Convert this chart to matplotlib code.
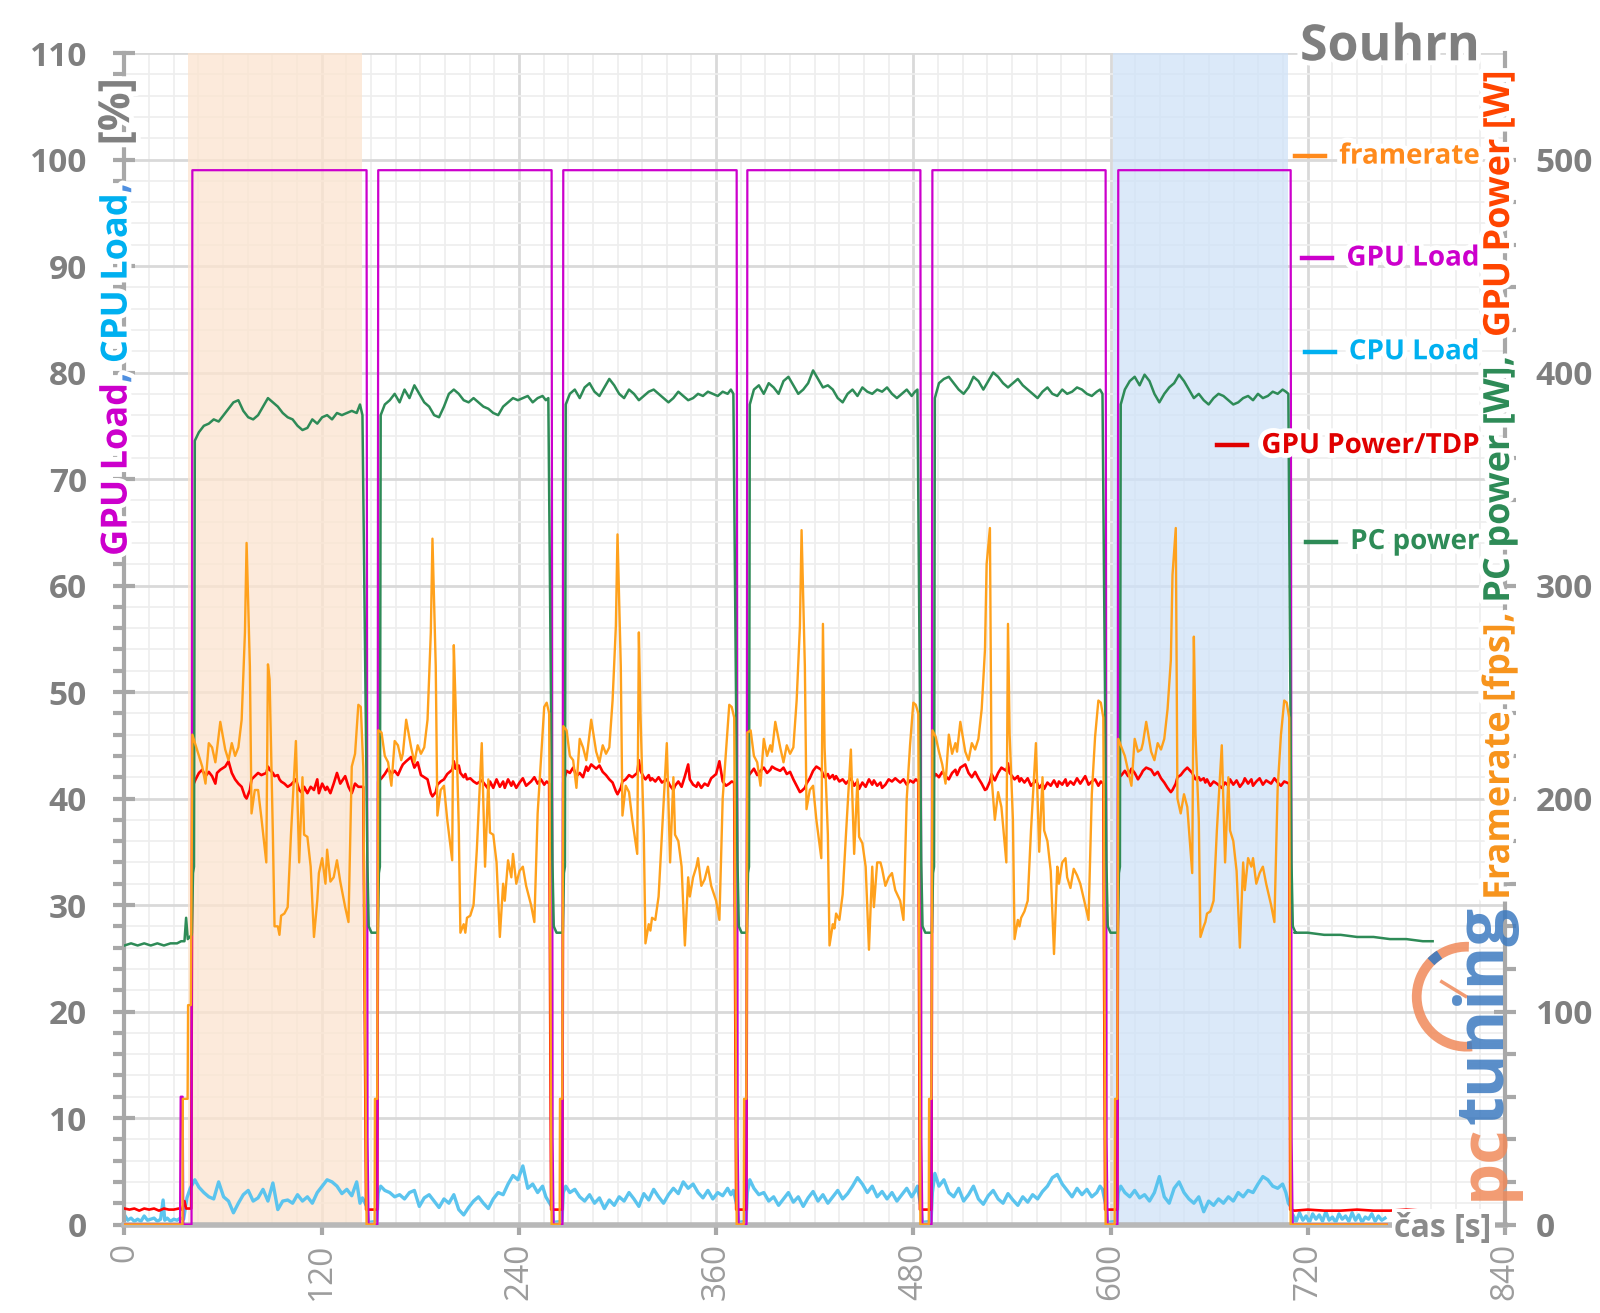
import numpy as np
import matplotlib
matplotlib.use("Agg")
import matplotlib.pyplot as plt
import matplotlib.patheffects as pe
from matplotlib.ticker import MultipleLocator
from matplotlib.patches import Arc
from matplotlib.lines import Line2D

plt.rcParams['font.family'] = ['Open Sans', 'DejaVu Sans']

# ---------------- data ----------------
# six benchmark runs: load start / end [s]
load_start = [41.3, 154.4, 267.0, 379.0, 491.6, 604.7]
load_end = [147.3, 259.9, 372.5, 484.3, 597.0, 709.6]

# framerate [fps] and GPU power/TDP [%] sampled at these offsets from run start
run_rel = [0, 2, 4, 6, 8, 10, 12, 14, 15, 17, 20, 22, 24, 26, 28, 30, 32, 33, 35, 36,
           38, 40, 42, 45, 46, 47, 49, 50, 52, 53, 54, 56, 58, 60, 63, 65, 67, 68, 70, 72,
           74, 76, 77, 79, 81, 82, 84, 86, 88, 90, 93, 95, 97, 99, 101, 102.5, 104]

fps_run1 = [230, 225, 220, 215, 207, 226, 224, 217, 223, 236, 223, 218, 226, 220, 224, 237, 278, 320, 262, 193,
            204, 204, 191, 170, 263, 256, 183, 140, 140, 136, 145, 146, 149, 183, 227, 170, 210, 183, 182, 168,
            135, 152, 165, 172, 160, 176, 161, 163, 171, 161, 149, 142, 215, 221, 244, 243, 215]
fps_run2 = [232, 231, 220, 217, 206, 227, 225, 218, 221, 237, 224, 217, 225, 221, 224, 237, 278, 322, 262, 192,
            204, 206, 190, 171, 272, 246, 187, 137, 141, 137, 144, 145, 150, 176, 226, 168, 209, 184, 183, 170,
            135, 160, 152, 171, 163, 174, 160, 166, 168, 159, 150, 142, 193, 218, 243, 245, 240]
fps_run3 = [234, 232, 220, 218, 205, 228, 224, 218, 224, 237, 222, 217, 225, 221, 224, 246, 281, 324, 262, 192,
            206, 203, 190, 174, 278, 239, 183, 132, 141, 138, 144, 143, 154, 183, 226, 170, 210, 183, 180, 168,
            131, 163, 154, 163, 168, 172, 159, 162, 168, 159, 152, 143, 200, 222, 244, 243, 238]
fps_run4 = [231, 232, 220, 217, 206, 228, 220, 225, 222, 236, 224, 217, 225, 221, 224, 246, 281, 326, 262, 195,
            204, 206, 190, 172, 282, 224, 183, 131, 141, 139, 146, 143, 155, 183, 223, 174, 209, 182, 179, 168,
            129, 168, 149, 170, 170, 167, 159, 163, 165, 157, 152, 143, 200, 225, 245, 244, 240]
fps_run5 = [232, 229, 222, 216, 207, 230, 221, 226, 222, 236, 222, 218, 226, 223, 228, 242, 270, 310, 327, 210,
            190, 203, 196, 170, 282, 230, 190, 134, 143, 140, 144, 147, 152, 185, 226, 175, 210, 185, 180, 166,
            127, 168, 160, 170, 172, 163, 158, 167, 164, 160, 150, 143, 202, 229, 246, 245, 238]
fps_run6 = [228, 224, 220, 213, 206, 228, 222, 223, 226, 236, 222, 218, 226, 223, 228, 242, 265, 305, 327, 200,
            193, 202, 196, 165, 276, 230, 190, 135, 140, 142, 146, 147, 152, 185, 225, 170, 210, 185, 180, 166,
            130, 170, 157, 172, 168, 172, 160, 165, 168, 160, 150, 142, 205, 230, 246, 245, 238]
fps_runs = [fps_run1, fps_run2, fps_run3, fps_run4, fps_run5, fps_run6]

gpw_run1 = [41.1, 41.8, 42.4, 42.7, 42.1, 42.5, 42.1, 41.4, 42.4, 42.7, 43.0, 43.5, 42.4, 41.8, 41.4, 41.1, 40.2, 40.0, 40.8, 41.8,
            42.1, 42.4, 42.2, 42.4, 43.0, 42.7, 42.4, 42.1, 42.2, 41.8, 41.6, 41.4, 41.1, 41.3, 41.8, 40.8, 40.5, 41.1, 40.5, 41.1,
            40.8, 41.8, 40.5, 41.4, 40.8, 41.1, 40.5, 41.4, 42.4, 41.4, 42.1, 41.1, 40.5, 41.4, 41.1, 41.1, 41.1]
gpw_run2 = [41.6, 41.9, 42.3, 42.8, 42.3, 42.6, 42.2, 42.9, 43.2, 43.5, 43.9, 42.9, 43.4, 42.2, 42.0, 41.8, 40.5, 40.2, 40.6, 41.3,
            41.6, 41.8, 42.3, 42.7, 43.5, 42.8, 43.1, 42.4, 42.0, 42.3, 41.8, 41.9, 41.6, 41.4, 41.7, 41.3, 40.9, 41.6, 41.0, 41.8,
            41.1, 41.6, 41.0, 41.8, 41.2, 41.6, 41.0, 41.5, 41.9, 41.2, 41.6, 42.0, 41.4, 41.8, 41.3, 41.6, 41.4]
gpw_run3 = [41.5, 42.6, 42.4, 42.9, 42.1, 42.4, 42.0, 43.0, 42.6, 43.2, 42.8, 43.1, 42.5, 42.2, 41.8, 41.5, 40.7, 40.4, 41.0, 41.6,
            41.8, 42.2, 42.0, 42.4, 43.6, 42.6, 42.0, 41.8, 42.2, 41.7, 41.9, 41.6, 42.0, 41.5, 41.8, 41.2, 40.8, 41.2, 41.6, 41.1,
            42.1, 43.2, 41.8, 41.3, 41.1, 41.5, 41.0, 41.4, 41.2, 41.9, 42.3, 43.5, 41.6, 41.2, 41.4, 41.6, 41.5]
gpw_run4 = [42.0, 42.4, 42.8, 42.2, 42.6, 42.9, 42.4, 42.7, 43.0, 42.8, 42.6, 42.9, 42.3, 42.5, 41.8, 41.2, 40.6, 40.7, 41.0, 41.4,
            41.9, 42.6, 43.0, 42.7, 42.3, 42.0, 42.3, 41.9, 42.2, 41.8, 42.1, 41.6, 41.8, 41.4, 41.9, 41.2, 41.6, 40.9, 41.5, 41.1,
            41.8, 41.3, 41.7, 41.2, 41.5, 41.0, 41.3, 41.8, 41.6, 41.9, 41.5, 41.8, 41.3, 41.7, 41.5, 41.8, 41.6]
gpw_run5 = [41.8, 42.3, 42.0, 42.5, 42.1, 41.8, 42.4, 42.7, 42.2, 42.9, 43.2, 42.4, 42.0, 42.5, 41.9, 41.4, 40.8, 40.9, 41.6, 42.3,
            41.7, 42.4, 42.9, 42.6, 43.3, 42.4, 42.0, 41.8, 42.1, 41.6, 41.9, 41.5, 41.9, 41.2, 41.7, 41.0, 41.4, 40.9, 41.5, 41.2,
            41.7, 41.1, 41.6, 41.3, 41.8, 41.2, 41.6, 41.3, 41.9, 41.4, 42.1, 41.3, 41.6, 41.8, 41.2, 41.6, 41.4]
gpw_run6 = [41.9, 42.2, 42.6, 42.1, 42.8, 42.4, 41.8, 42.3, 42.6, 42.9, 42.7, 42.2, 42.5, 41.9, 41.5, 41.0, 40.6, 40.8, 41.4, 42.0,
            42.2, 42.6, 42.9, 42.4, 42.1, 41.8, 42.0, 41.7, 41.9, 41.5, 41.8, 41.2, 41.6, 41.4, 41.0, 41.5, 41.2, 41.8, 41.3, 41.7,
            41.1, 41.5, 41.9, 41.4, 41.8, 41.2, 41.6, 41.9, 41.3, 41.7, 41.4, 41.9, 41.5, 41.2, 41.6, 41.5, 41.4]
gpw_runs = [gpw_run1, gpw_run2, gpw_run3, gpw_run4, gpw_run5, gpw_run6]

# PC power [W] and CPU load [%] sampled at these offsets from run start
slow_rel = [1.5, 4, 7, 10, 13, 16, 19, 22, 25, 28, 31, 34, 37, 40, 43, 46, 49, 52,
            55, 58, 61, 64, 67, 70, 73, 76, 79, 82, 85, 88, 91, 94, 97, 100, 102, 103.5]

pc_run1 = [368, 372, 375, 376, 378, 377, 380, 383, 386, 387, 382, 379, 378, 380, 384, 388, 386, 384,
           381, 379, 378, 375, 373, 374, 378, 376, 379, 380, 378, 381, 380, 381, 382, 381, 385, 380]
pc_run2 = [380, 385, 387, 390, 386, 392, 388, 394, 390, 386, 384, 380, 379, 384, 390, 392, 390, 387,
           386, 388, 386, 384, 383, 381, 380, 384, 386, 388, 387, 388, 389, 386, 388, 389, 387, 388]
pc_run3 = [385, 390, 392, 388, 393, 395, 391, 389, 393, 397, 394, 390, 388, 392, 390, 387, 389, 391,
           392, 390, 388, 386, 388, 391, 389, 387, 388, 390, 389, 391, 390, 389, 391, 390, 392, 390]
pc_run4 = [385, 392, 394, 390, 395, 393, 390, 396, 398, 394, 390, 392, 395, 401, 397, 393, 394, 392,
           388, 386, 390, 392, 389, 393, 391, 390, 392, 391, 393, 390, 388, 390, 392, 389, 391, 392]
pc_run5 = [388, 395, 397, 398, 395, 392, 390, 393, 398, 396, 392, 396, 400, 398, 395, 393, 395, 397,
           394, 392, 390, 388, 391, 393, 390, 389, 392, 390, 391, 393, 392, 390, 389, 391, 392, 390]
pc_run6 = [385, 392, 396, 398, 394, 399, 396, 390, 386, 390, 393, 395, 399, 396, 392, 388, 390, 387,
           385, 388, 390, 389, 387, 385, 386, 388, 389, 387, 390, 388, 389, 391, 390, 392, 391, 390]
pc_runs = [pc_run1, pc_run2, pc_run3, pc_run4, pc_run5, pc_run6]

cpu_run1 = [4.2, 3.5, 3.0, 2.6, 2.4, 4.0, 2.6, 2.2, 1.1, 2.0, 2.8, 3.2, 2.2, 2.5, 3.3, 2.2, 3.9, 1.4,
            2.2, 2.3, 2.0, 2.8, 2.2, 2.6, 2.0, 3.0, 3.6, 4.2, 4.0, 3.6, 2.9, 3.3, 2.7, 4.0, 2.0, 2.5]
cpu_run2 = [3.6, 3.2, 3.0, 2.6, 2.8, 2.4, 3.0, 3.2, 1.7, 2.5, 2.8, 2.2, 1.6, 2.4, 2.0, 2.8, 1.4, 0.9,
            1.6, 2.2, 2.6, 2.0, 1.5, 2.4, 3.0, 2.8, 3.8, 4.6, 4.2, 5.5, 3.4, 3.8, 3.0, 3.6, 2.6, 2.2]
cpu_run3 = [3.6, 3.0, 3.3, 2.6, 2.2, 2.8, 2.0, 2.5, 1.5, 2.3, 1.8, 2.6, 2.2, 3.0, 2.4, 1.7, 2.9, 2.3,
            3.3, 2.6, 2.0, 2.8, 3.4, 2.9, 4.0, 3.4, 3.8, 3.0, 2.5, 3.2, 2.4, 3.0, 2.7, 3.4, 2.8, 3.2]
cpu_run4 = [4.2, 3.4, 2.8, 3.0, 2.2, 2.6, 1.8, 2.4, 3.0, 2.1, 2.6, 1.7, 2.5, 3.1, 2.2, 2.8, 2.0, 2.6,
            3.2, 2.4, 2.9, 3.6, 4.4, 3.8, 3.0, 3.6, 2.6, 3.1, 2.4, 3.0, 2.2, 2.8, 3.4, 2.6, 3.1, 3.6]
cpu_run5 = [4.8, 3.6, 4.2, 3.0, 2.6, 3.4, 2.2, 2.8, 3.6, 2.4, 1.9, 2.7, 3.2, 2.4, 2.0, 2.9, 2.3, 1.8,
            2.6, 2.1, 2.8, 2.4, 3.1, 3.6, 4.4, 4.7, 3.8, 3.2, 2.6, 3.4, 2.8, 3.3, 2.6, 3.0, 3.6, 3.3]
cpu_run6 = [3.6, 3.0, 2.6, 3.2, 2.5, 2.8, 2.2, 3.0, 4.5, 2.6, 2.0, 3.4, 4.0, 3.0, 2.4, 2.0, 2.6, 1.2,
            2.2, 1.8, 2.4, 2.0, 2.6, 2.2, 3.0, 2.6, 3.2, 3.0, 3.8, 4.5, 4.2, 3.6, 3.4, 3.8, 3.0, 2.0]
cpu_runs = [cpu_run1, cpu_run2, cpu_run3, cpu_run4, cpu_run5, cpu_run6]

# idle stretches before the first run and after the last one
fps_idle_t = [0, 35.3, 35.5, 38.4, 38.7, 40.4]
fps_idle_v = [0, 0, 59, 59, 103, 103]
fps_gap_dt = [-2.2, -2.0, -0.6]          # relative to next run start
fps_gap_v = [0, 59, 59]
fps_end_t = 768

load_idle_t = [0, 33.8, 34.2, 35.4, 35.8, 40.8]
load_idle_v = [0, 0, 12, 12, 0, 0]
load_on = 99
load_fall_dt = [0.6, 1.2]
load_fall_v = [8, 0]

gpw_idle_t = [0, 3, 6, 9, 12, 15, 18, 21, 24, 27, 30, 33, 35, 36.5, 37.5, 39, 40.6]
gpw_idle_v = [1.5, 1.4, 1.5, 1.3, 1.5, 1.4, 1.5, 1.3, 1.5, 1.4, 1.4, 1.5, 1.4, 2.2, 1.5, 1.5, 1.5]
gpw_gap = 1.4
gpw_post_t = [712, 720, 730, 740, 750, 760, 770, 780, 790, 796]
gpw_post_v = [1.3, 1.4, 1.3, 1.3, 1.4, 1.3, 1.3, 1.4, 1.3, 1.3]

pc_idle_t = [0, 4, 8, 12, 16, 20, 24, 28, 32, 34.5, 36.5, 37.5, 38.5, 40.9]
pc_idle_v = [131, 132, 131, 132, 131, 132, 131, 132, 132, 133, 133, 144, 134, 136]
pc_rise_dt = [-0.3, 0.4, 1.0]
pc_rise_v = [137, 165, 168]
pc_fall_dt = [0.5, 1.3, 3.0]
pc_fall_v = [170, 140, 137]
pc_post_t = [712, 720, 730, 740, 750, 760, 770, 780, 790, 796]
pc_post_v = [137, 137, 136, 136, 135, 135, 134, 134, 133, 133]

cpu_idle_t = [0, 2, 4, 6, 8, 10, 12, 14, 16, 18, 20, 22, 23.5, 24.5, 26, 28, 30, 32, 34, 36, 38, 40]
cpu_idle_v = [0.9, 0.4, 0.6, 0.3, 0.5, 0.3, 0.8, 0.4, 0.5, 0.6, 0.3, 0.5, 2.3, 0.4, 0.6, 0.3, 0.5,
              0.4, 0.6, 0.5, 2.5, 3.4]
cpu_fall_dt = [0.4, 1.2]
cpu_fall_v = [1.6, 0.2]
cpu_rise_dt = [-0.8, 0.0]
cpu_rise_v = [0.3, 3.0]
cpu_post_t = np.arange(711, 768, 2)
cpu_post_v = [0.9, 0.3, 1.1, 0.4, 0.8, 0.2, 1.0, 0.5, 0.9, 0.3, 1.2, 0.4, 0.7, 0.2, 1.0,
              0.5, 0.8, 0.3, 1.1, 0.4, 0.9, 0.2, 0.7, 0.5, 1.0, 0.3, 0.8, 0.4, 0.6]

highlight_orange = (38.8, 144.3)
highlight_blue = (601.7, 708.1)

# ---------------- assemble series ----------------
n_runs = len(load_start)

fr_t, fr_v = list(fps_idle_t), list(fps_idle_v)
gl_t, gl_v = list(load_idle_t), list(load_idle_v)
gp_t, gp_v = list(gpw_idle_t), list(gpw_idle_v)
pc_t, pc_v = list(pc_idle_t), list(pc_idle_v)
cp_t, cp_v = list(cpu_idle_t), list(cpu_idle_v)

for k in range(n_runs):
    s, e = load_start[k], load_end[k]
    # framerate
    fr_t += [s + r for r in run_rel]
    fr_v += fps_runs[k]
    fr_t.append(e)
    fr_v.append(0)
    # gpu load
    gl_t += [s, e] + [e + d for d in load_fall_dt]
    gl_v += [load_on, load_on] + load_fall_v
    # gpu power
    gp_t += [s + r for r in run_rel] + [e - 0.3]
    gp_v += gpw_runs[k] + [gpw_gap]
    # pc power
    pc_t += [s + d for d in pc_rise_dt] + [s + r for r in slow_rel] + [e + d for d in pc_fall_dt]
    pc_v += pc_rise_v + pc_runs[k] + pc_fall_v
    # cpu load
    if k > 0:
        cp_t += [s + d for d in cpu_rise_dt]
        cp_v += cpu_rise_v
    cp_t += [s + r for r in slow_rel] + [e + d for d in cpu_fall_dt]
    cp_v += cpu_runs[k] + cpu_fall_v
    if k < n_runs - 1:
        s2 = load_start[k + 1]
        fr_t += [s2 + d for d in fps_gap_dt]
        fr_v += fps_gap_v
        gl_t.append(s2 - 0.5)
        gl_v.append(0)
        gp_t.append(s2 - 0.6)
        gp_v.append(gpw_gap)

fr_t.append(fps_end_t)
fr_v.append(0)
gl_t.append(fps_end_t)
gl_v.append(0)
gp_t += gpw_post_t
gp_v += gpw_post_v
pc_t += pc_post_t
pc_v += pc_post_v
cp_t += list(cpu_post_t)
cp_v += cpu_post_v

# ---------------- colours ----------------
c_fps, c_fps_txt = '#FFA11C', '#FF8A1C'
c_load = '#CC00CC'
c_cpu, c_cpu_txt = '#5BC4EE', '#00B0F0'
c_gpw, c_gpw_txt = '#FF0000', '#E00000'
c_pc = '#2E8B57'
c_axis = '#A8A8A8'
c_tick_txt = '#7F7F7F'
glow = [pe.withStroke(linewidth=7, foreground='white')]

# ---------------- figure ----------------
fig = plt.figure(figsize=(16, 13.13), dpi=100)
ax = fig.add_axes([0.0778, 0.0674, 0.8628, 0.8922])
ax2 = ax.twinx()

ax.set_xlim(0, 840)
ax.set_ylim(0, 110)
ax2.set_ylim(0, 550)

ax.axvspan(*highlight_orange, color='#FCE4CF', alpha=0.75, lw=0, zorder=0.6)
ax.axvspan(*highlight_blue, color='#CFE2F8', alpha=0.75, lw=0, zorder=0.6)

ax.set_axisbelow(True)
ax.xaxis.set_major_locator(MultipleLocator(120))
ax.xaxis.set_minor_locator(MultipleLocator(15))
ax.yaxis.set_major_locator(MultipleLocator(10))
ax.yaxis.set_minor_locator(MultipleLocator(2))
ax2.yaxis.set_major_locator(MultipleLocator(100))
ax2.yaxis.set_minor_locator(MultipleLocator(20))
ax.grid(which='major', color='#D9D9D9', lw=2.0)
ax.grid(which='minor', color='#EEEEEE', lw=1.2)

ax.plot(cp_t, cp_v, color=c_cpu, lw=2.4, zorder=2)
ax.plot(gp_t, gp_v, color=c_gpw, lw=1.9, zorder=3)
ax.plot(gl_t, gl_v, color=c_load, lw=1.6, zorder=4)
ax2.plot(pc_t, pc_v, color=c_pc, lw=1.8, zorder=2)
ax2.plot(fr_t, fr_v, color=c_fps, lw=1.7, zorder=3)

for a in (ax, ax2):
    a.spines['top'].set_visible(False)
ax.spines['right'].set_visible(False)
ax2.spines['left'].set_visible(False)
ax2.spines['bottom'].set_visible(False)
ax.spines['left'].set_color(c_axis)
ax.spines['left'].set_linewidth(3)
ax.spines['bottom'].set_color('#B8B8B8')
ax.spines['bottom'].set_linewidth(4)
ax2.spines['right'].set_color(c_axis)
ax2.spines['right'].set_linewidth(3)

ax.tick_params(axis='y', which='major', direction='inout', length=16, width=3, color=c_axis,
               labelsize=24, labelcolor=c_tick_txt, pad=19)
ax.tick_params(axis='y', which='minor', direction='out', length=8, width=3, color=c_axis)
ax2.tick_params(axis='y', which='major', direction='inout', length=16, width=3, color=c_axis,
                labelsize=24, labelcolor=c_tick_txt, pad=14)
ax2.tick_params(axis='y', which='minor', direction='out', length=8, width=3, color=c_axis)
ax.tick_params(axis='x', which='major', direction='out', length=7, width=3, color=c_axis,
               labelsize=24, labelcolor='#9C9C9C', pad=6, labelrotation=90)
ax.tick_params(axis='x', which='minor', length=0)
for lab in ax.get_yticklabels() + ax2.get_yticklabels():
    lab.set_fontweight('bold')

# title, x label
fig.text(0.925, 0.983, 'Souhrn', ha='right', va='top', fontsize=36, fontweight='bold',
         color='#7F7F7F', path_effects=glow)
fig.text(0.9019, 0.0647, 'čas [s]', ha='center', va='center', fontsize=23, fontweight='bold',
         color='#8C8C8C', bbox=dict(facecolor='white', edgecolor='none', pad=2))

fig.canvas.draw()
renderer = fig.canvas.get_renderer()


def stack_vertical(pieces, x, y0, weight='bold', alpha=1.0, effects=glow):
    y = y0
    for txt, col, size in pieces:
        t = fig.text(x, y, txt, rotation=90, ha='center', va='bottom', color=col, fontsize=size,
                     fontweight=weight, alpha=alpha, path_effects=effects)
        bb = t.get_window_extent(renderer)
        y += bb.height / fig.bbox.height


stack_vertical([('GPU Load', c_load, 26), (', ', '#4F8FE0', 26), ('CPU Load', c_cpu_txt, 26),
                (',    ', '#4F8FE0', 26), ('[%]', '#808080', 31)], 0.0735, 0.5766)
stack_vertical([('Framerate [fps]', '#F7941D', 26), (', ', '#F7941D', 26), ('PC power [W]', c_pc, 26),
                (',  ', c_pc, 26), ('GPU Power [W]', '#FF4500', 26)], 0.9375, 0.3146)

# legend
legend_items = [('framerate', c_fps_txt, 0.912), ('GPU Load', c_load, 0.825),
                ('CPU Load', c_cpu_txt, 0.745), ('GPU Power/TDP', c_gpw_txt, 0.665),
                ('PC power', c_pc, 0.583)]
for label, col, yy in legend_items:
    t = ax2.text(0.9816, yy, label, transform=ax2.transAxes, ha='right', va='center', fontsize=20,
                 fontweight='bold', color=col, path_effects=glow, zorder=10)
    bb = t.get_window_extent(renderer)
    x1 = (bb.x0 - 14) / fig.bbox.width
    x0 = (bb.x0 - 44) / fig.bbox.width
    yc = (bb.y0 + bb.y1) / 2 / fig.bbox.height
    fig.add_artist(Line2D([x0, x1], [yc, yc], color=col, lw=3.2, transform=fig.transFigure))

# watermark logo
stack_vertical([('pc', '#F08A5A', 48), ('tuning', '#3C7AC0', 48)], 0.928, 0.086, weight='bold',
               alpha=0.85, effects=None)
fig.add_artist(Arc((0.9167, 0.2409), 100 / 1600, 100 / 1313, theta1=88, theta2=275,
                   transform=fig.transFigure, color='#F08A5A', lw=7, alpha=0.85))
fig.add_artist(Arc((0.9167, 0.2409), 100 / 1600, 100 / 1313, theta1=118, theta2=130,
                   transform=fig.transFigure, color='#3C7AC0', lw=7, alpha=0.9))
fig.add_artist(Line2D([0.9011, 0.9160], [0.2523, 0.2412], color='#F08A5A', lw=2.5,
                      transform=fig.transFigure, alpha=0.85))

fig.savefig('out.png', dpi=100)
